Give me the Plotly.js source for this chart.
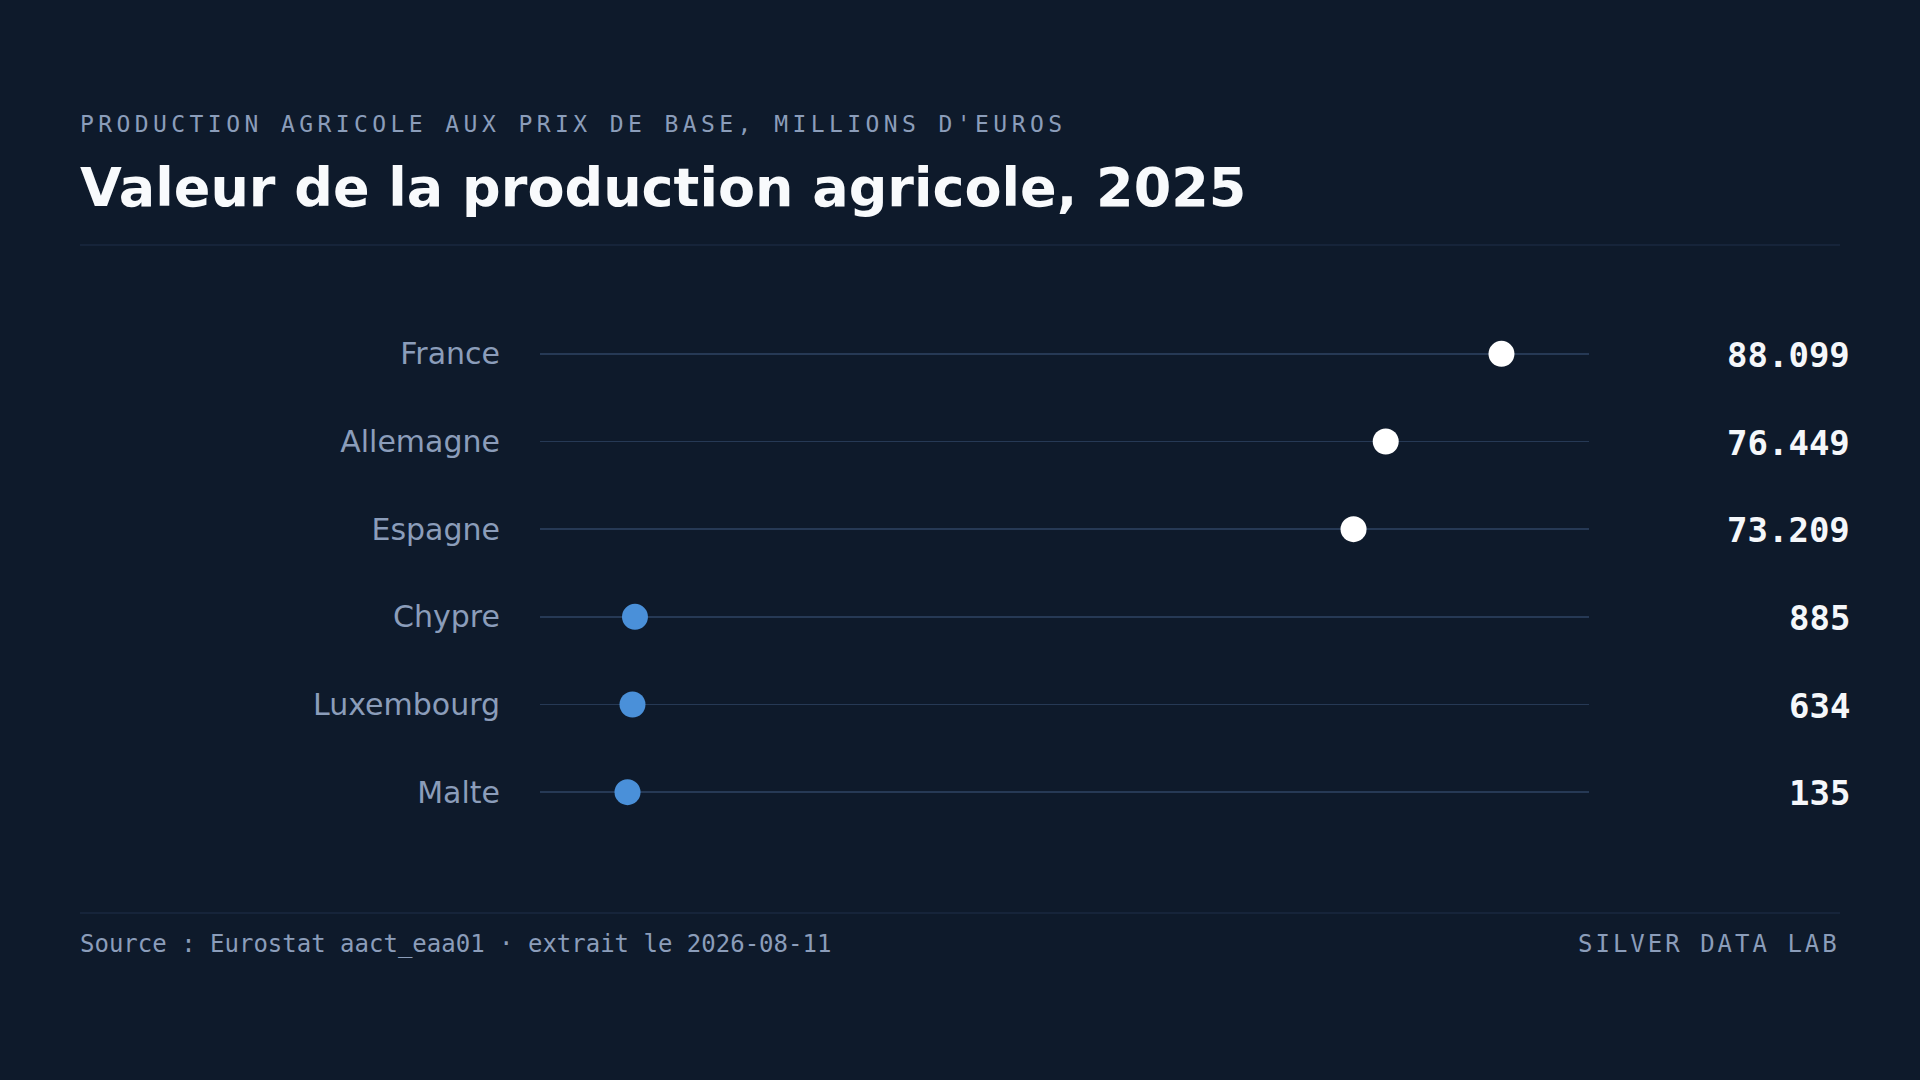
<!DOCTYPE html>
<html lang="fr">
<head>
<meta charset="utf-8">
<title>Valeur de la production agricole, 2025</title>
<script src="https://cdn.plot.ly/plotly-3.0.1.min.js"></script>
<style>
    html, body { margin: 0; padding: 0; background: #0e1a2b; }
    #graphique { width: 1920px; height: 1080px; }
</style>
</head>
<body>
<div id="graphique"></div>
<script>
/* ============================================================================
 * Données
 * ========================================================================== */

const pays = ["France", "Allemagne", "Espagne", "Chypre", "Luxembourg", "Malte"];
const valeurs = [88099, 76449, 73209, 885, 634, 135];
const groupes = ["haut", "haut", "haut", "bas", "bas", "bas"];

const surtitre = "PRODUCTION AGRICOLE AUX PRIX DE BASE, MILLIONS D'EUROS";
const titre = "Valeur de la production agricole, 2025";
const source = "Source : Eurostat aact_eaa01 · extrait le 2026-08-11";
const signature = "SILVER DATA LAB";


/* ============================================================================
 * Mise en page (pixels)
 * ========================================================================== */

const LARGEUR = 1920;
const HAUTEUR = 1080;
const MARGE = { l: 540, r: 331, t: 310, b: 244 };

const FOND = "#0e1a2b";
const TEXTE_DOUX = "#8b9dba";
const COULEURS_GROUPE = { haut: "#ffffff", bas: "#4a90d9" };

const zoneL = LARGEUR - MARGE.l - MARGE.r;
const zoneH = HAUTEUR - MARGE.t - MARGE.b;

// Conversion pixels -> coordonnées "paper"
function px(x) { return (x - MARGE.l) / zoneL; }
function py(y) { return (HAUTEUR - MARGE.b - y) / zoneH; }

function formaterNombre(v) {
    return String(v).replace(/\B(?=(\d{3})+(?!\d))/g, ".");
}


/* ============================================================================
 * Construction du graphique
 * ========================================================================== */

function creerGraphique() {

    const maxi = Math.max(...valeurs);
    const mini = Math.min(...valeurs);
    const marge = maxi * 0.1;

    const traceValeurs = {
        type: "scatter",
        mode: "markers",
        x: valeurs,
        y: pays,
        marker: {
            size: 26,
            color: groupes.map(g => COULEURS_GROUPE[g]),
            line: { width: 0 }
        },
        hoverinfo: "skip",
        showlegend: false
    };

    const annotations = [
        {
            xref: "paper", yref: "paper",
            x: px(77.5), y: py(123.5),
            xanchor: "left", yanchor: "middle",
            text: '<span style="letter-spacing:4.42px">' + surtitre + "</span>",
            showarrow: false,
            font: { family: "DejaVu Sans Mono", size: 23, color: TEXTE_DOUX }
        },
        {
            xref: "paper", yref: "paper",
            x: px(78), y: py(187.5),
            xanchor: "left", yanchor: "middle",
            text: "<b>" + titre + "</b>",
            showarrow: false,
            font: { family: "DejaVu Sans", size: 54, color: "#f8fafc" }
        },
        {
            xref: "paper", yref: "paper",
            x: px(77.5), y: py(944),
            xanchor: "left", yanchor: "middle",
            text: source,
            showarrow: false,
            font: { family: "DejaVu Sans Mono", size: 24, color: TEXTE_DOUX }
        },
        {
            xref: "paper", yref: "paper",
            x: px(1841.5), y: py(944),
            xanchor: "right", yanchor: "middle",
            text: '<span style="letter-spacing:3px">' + signature + "</span>",
            showarrow: false,
            font: { family: "DejaVu Sans Mono", size: 24, color: TEXTE_DOUX }
        }
    ];

    // Valeurs à droite de chaque ligne
    pays.forEach((p, i) => {
        annotations.push({
            xref: "paper", yref: "y",
            x: px(1851.5), y: p,
            xanchor: "right", yanchor: "middle",
            yshift: -1,
            text: "<b>" + formaterNombre(valeurs[i]) + "</b>",
            showarrow: false,
            font: { family: "DejaVu Sans Mono", size: 34, color: "#f5f7fa" }
        });
    });

    const filet = { type: "line", xref: "paper", yref: "paper",
                    x0: px(80), x1: px(1840), line: { color: "#1a2940", width: 1.5 } };

    const layout = {
        width: LARGEUR,
        height: HAUTEUR,
        margin: MARGE,
        paper_bgcolor: FOND,
        plot_bgcolor: FOND,
        showlegend: false,
        xaxis: {
            range: [mini - marge, maxi + marge],
            showgrid: false,
            zeroline: false,
            showline: false,
            showticklabels: false,
            fixedrange: true
        },
        yaxis: {
            type: "category",
            categoryorder: "array",
            categoryarray: pays,
            range: [pays.length - 0.5, -0.5],
            showgrid: true,
            gridcolor: "#263955",
            gridwidth: 1.5,
            zeroline: false,
            showline: false,
            ticks: "outside",
            ticklen: 33,
            tickcolor: "rgba(0,0,0,0)",
            tickfont: { family: "DejaVu Sans", size: 30, color: TEXTE_DOUX },
            fixedrange: true
        },
        shapes: [
            Object.assign({}, filet, { y0: py(245), y1: py(245) }),
            Object.assign({}, filet, { y0: py(913), y1: py(913) })
        ],
        annotations: annotations
    };

    Plotly.newPlot("graphique", [traceValeurs], layout, { displayModeBar: false, staticPlot: true });
}


/* ============================================================================
 * Initialisation
 * ========================================================================== */

document.addEventListener("DOMContentLoaded", () => {

    creerGraphique();

});
</script>
</body>
</html>
